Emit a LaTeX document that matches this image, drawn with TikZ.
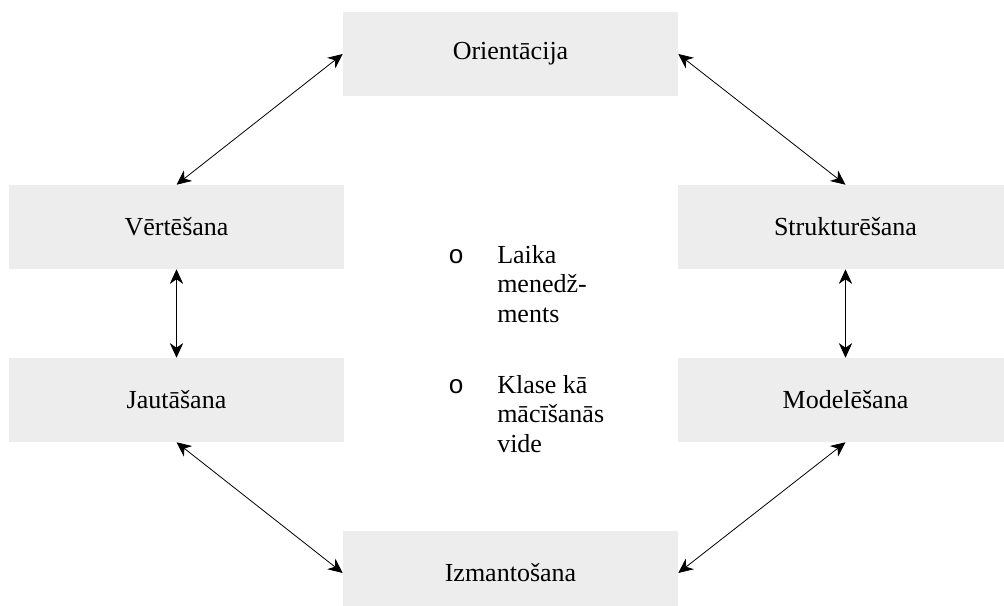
\documentclass[tikz,border=0pt]{standalone}
\usepackage{fontspec}
\setmainfont{Liberation Serif}
\newfontfamily\bulletfont{Liberation Mono}
\usetikzlibrary{arrows.meta,positioning}
\definecolor{boxgrey}{RGB}{237,237,237}

\begin{document}
\begin{tikzpicture}[x=0.75pt,y=-0.75pt,
    stage/.style={fill=boxgrey,draw=none,minimum width=251.25pt,minimum height=63pt,
      inner sep=0pt,font=\fontsize{19.5}{23}\selectfont},
    link/.style={{Stealth[length=11pt,width=10pt,inset=3.5pt]}-{Stealth[length=11pt,width=10pt,inset=3.5pt]},line width=0.6pt},
    item/.style={anchor=base west,align=left,inner sep=0pt,font=\fontsize{19.5}{22}\selectfont}]
  \useasboundingbox (0,0) rectangle (1004,606);
  \node[stage] (orient) at (510.5,54) {Orientācija};
  \node[stage] (vert) at (176.5,227) {Vērtēšana};
  \node[stage] (strukt) at (845.5,227) {Strukturēšana};
  \node[stage] (jaut) at (176.5,400) {Jautāšana};
  \node[stage] (model) at (845.5,400) {Modelēšana};
  \node[stage] (izm) at (510.5,573) {Izmantošana};

  \draw[link] (orient.west) -- (vert.north);
  \draw[link] (orient.east) -- (strukt.north);
  \draw[link] (vert.south) -- (jaut.north);
  \draw[link] (strukt.south) -- (model.north);
  \draw[link] (jaut.south) -- (izm.west);
  \draw[link] (model.south) -- (izm.east);

  % centre list
  \node[item,font=\bulletfont\fontsize{19.5}{22}\selectfont] (dot1) at (448,263) {o};
  \node[item] (laika) at (497,322) {Laika\\menedž-\\ments};
  \node[item,font=\bulletfont\fontsize{19.5}{22}\selectfont] (dot2) at (448,393) {o};
  \node[item] (klase) at (497,452) {Klase kā\\mācīšanās\\vide};
\end{tikzpicture}
\end{document}
